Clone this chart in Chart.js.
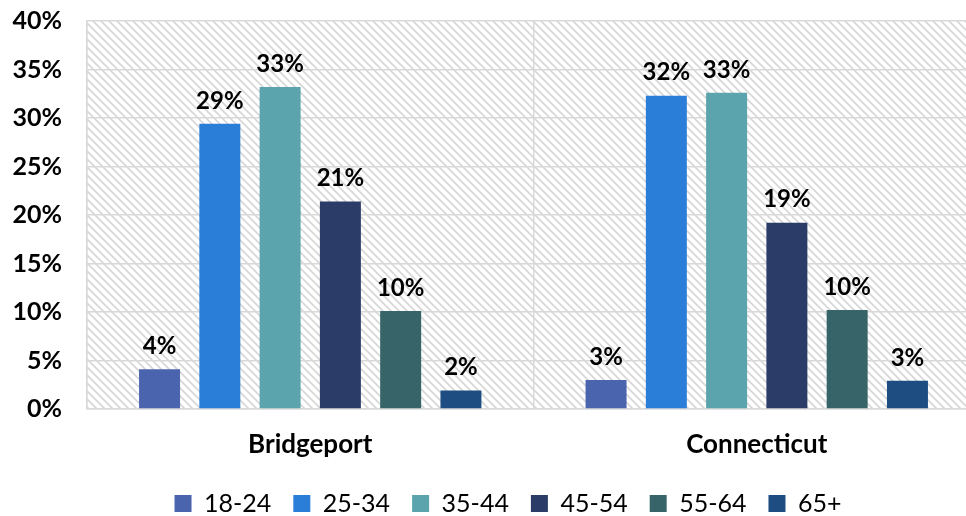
<!DOCTYPE html>
<html>
<head>
<meta charset="utf-8">
<script src="https://cdn.jsdelivr.net/npm/chart.js@4.4.0/dist/chart.umd.min.js"></script>
<style>
  html, body { margin: 0; padding: 0; background: #fff; overflow: hidden; }
  #wrap { position: relative; width: 980px; height: 516px; }
</style>
</head>
<body>
<div id="wrap"><canvas id="chart"></canvas></div>
<script>
const places = ["Bridgeport", "Connecticut"]
const ageGroups = ["18-24", "25-34", "35-44", "45-54", "55-64", "65+"]
const colors = ["#4A64AE", "#2B7ED8", "#5BA3AD", "#2C3C68", "#366468", "#1E4D82"]
const share_18_24 = [4.1, 3.0]
const share_25_34 = [29.4, 32.3]
const share_35_44 = [33.2, 32.6]
const share_45_54 = [21.4, 19.2]
const share_55_64 = [10.1, 10.2]
const share_65 = [1.9, 2.9]
const yTicks = [0, 5, 10, 15, 20, 25, 30, 35, 40]

const allShares = [share_18_24, share_25_34, share_35_44, share_45_54, share_55_64, share_65]
const font = "Lato, 'Open Sans', sans-serif"

// diagonal hatch for plot background
function hatchPattern() {
  const c = document.createElement("canvas")
  c.width = 8
  c.height = 8
  const g = c.getContext("2d")
  g.fillStyle = "#ffffff"
  g.fillRect(0, 0, 8, 8)
  g.strokeStyle = "#d6d6d6"
  g.lineWidth = 1.6
  g.beginPath()
  g.moveTo(-2, -2); g.lineTo(10, 10)
  g.moveTo(-2, 6); g.lineTo(2, 10)
  g.moveTo(6, -2); g.lineTo(10, 2)
  g.stroke()
  return g.createPattern(c, "repeat")
}

const hatchBg = {
  id: "hatchBg",
  beforeDraw(chart) {
    const { ctx, chartArea: a } = chart
    ctx.save()
    ctx.fillStyle = hatchPattern()
    ctx.fillRect(a.left, a.top, a.right - a.left, a.bottom - a.top)
    ctx.restore()
  }
}

// keep the legend spacing but don't let it eat vertical room
const legendHeight = {
  id: "legendHeight",
  beforeLayout(chart) {
    const lg = chart.legend
    if (lg && !lg._patched) {
      const fit = lg.fit
      const draw = lg.draw
      lg.fit = function () {
        fit.call(this)
        this.height = 56
      }
      lg.draw = function () {
        this.ctx.save()
        this.ctx.translate(18, 9)
        draw.call(this)
        this.ctx.restore()
      }
      lg._patched = true
    }
  }
}

const barLabels = {
  id: "barLabels",
  afterDatasetsDraw(chart) {
    const ctx = chart.ctx
    ctx.save()
    ctx.font = "bold 24px " + font
    ctx.fillStyle = "#000"
    ctx.textAlign = "center"
    ctx.textBaseline = "bottom"
    chart.data.datasets.forEach((ds, i) => {
      chart.getDatasetMeta(i).data.forEach((bar, j) => {
        ctx.fillText(Math.round(ds.data[j]) + "%", bar.x, bar.y - 11)
      })
    })
    ctx.restore()
  }
}

new Chart(document.getElementById("chart"), {
  type: "bar",
  data: {
    labels: places,
    datasets: ageGroups.map((g, i) => ({
      label: g,
      data: allShares[i],
      backgroundColor: colors[i],
      borderWidth: 0
    }))
  },
  options: {
    responsive: true,
    maintainAspectRatio: false,
    animation: false,
    layout: { padding: 0 },
    datasets: { bar: { categoryPercentage: 0.81, barPercentage: 0.68 } },
    plugins: {
      tooltip: { enabled: false },
      legend: {
        position: "bottom",
        labels: {
          color: "#000",
          boxWidth: 17,
          boxHeight: 17,
          padding: 22,
          font: { family: font, size: 25 }
        }
      }
    },
    scales: {
      x: {
        afterFit(scale) { scale.height = 51 },
        grid: { color: "#d9d9d9", lineWidth: 1.5, drawTicks: false, offset: true },
        border: { color: "#d9d9d9", width: 1.5 },
        ticks: { color: "#000", padding: 24, font: { family: font, size: 26, weight: "bold", lineHeight: 0.9 } }
      },
      y: {
        min: 0,
        max: 40,
        afterFit(scale) {
          scale.width = 87
          scale.paddingTop = 21
          scale.paddingBottom = 0
        },
        afterBuildTicks(axis) { axis.ticks = yTicks.map(v => ({ value: v })) },
        grid: { color: "#d9d9d9", lineWidth: 1.5, drawTicks: false },
        border: { color: "#d9d9d9", width: 1.5 },
        ticks: {
          color: "#000",
          padding: 25,
          font: { family: font, size: 25, weight: "bold" },
          callback: v => v + "%"
        }
      }
    }
  },
  plugins: [hatchBg, legendHeight, barLabels]
})
</script>
</body>
</html>
